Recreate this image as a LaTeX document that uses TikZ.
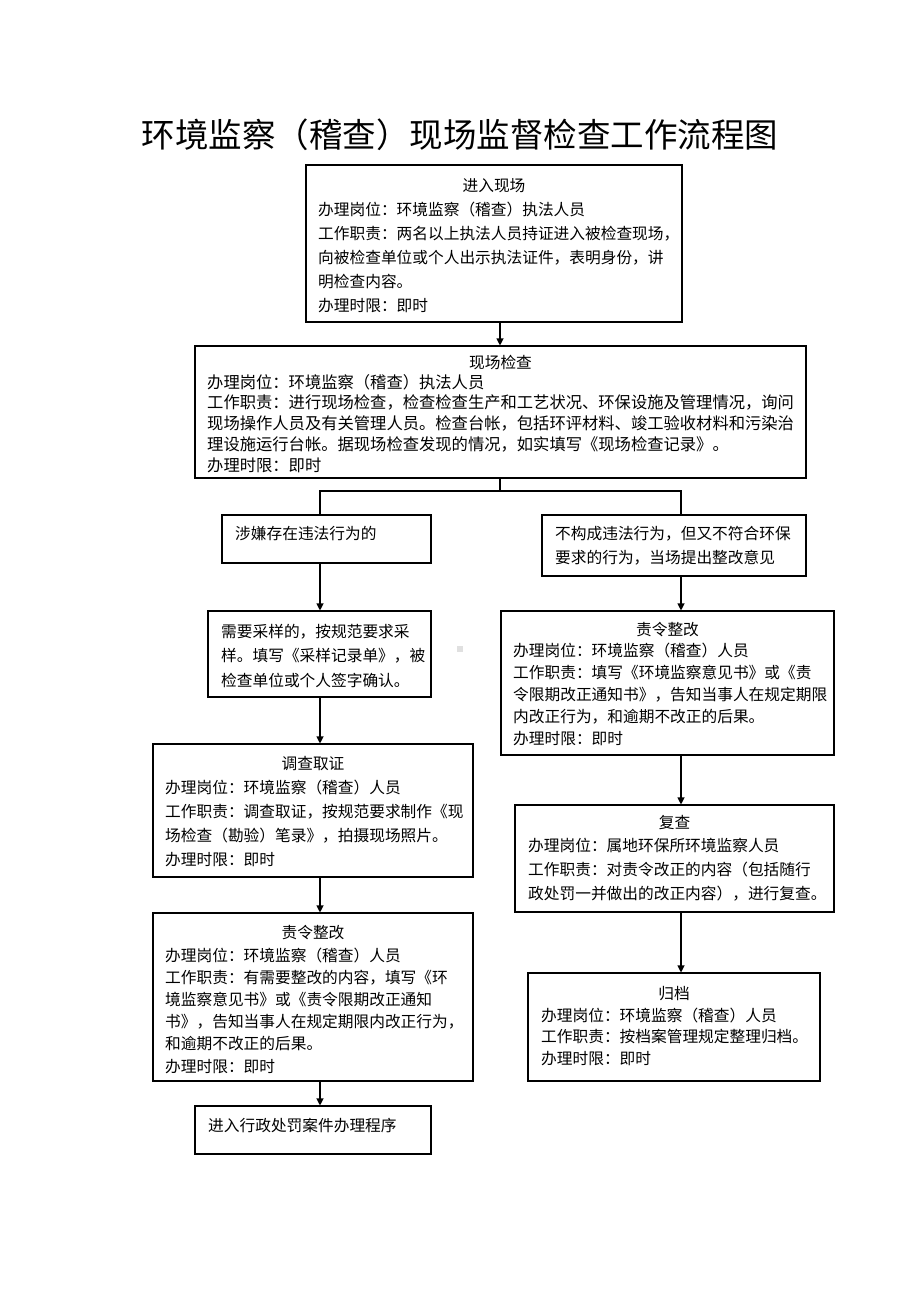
\documentclass[tikz,border=0pt]{standalone}
\usepackage{fontspec}
\newfontfamily\cjk{Noto Sans CJK SC}
\usetikzlibrary{arrows.meta}
\tikzset{
  box/.style={draw, line width=1.1pt, inner sep=0pt},
  ln/.style={inner sep=0pt, font=\cjk\fontsize{15.7}{18}\selectfont},
  lnw/.style={inner sep=0pt, font=\cjk\fontsize{16.3}{18}\selectfont},
  conn/.style={line width=1.1pt},
  arr/.style={line width=1.1pt, -{Triangle[length=7pt,width=7pt]}},
}
\newcommand\txtlines[6][ln]{\foreach \t [count=\i] in {#6}{\node[#1, anchor=base west] (#2\i) at (#3,{#4+(\i-1)*#5}) {\t};}}
\begin{document}
\begin{tikzpicture}[x=1pt,y=-1pt]
\fill[white] (0,0) rectangle (920,1302);
\useasboundingbox (0,0) rectangle (920,1302);

\node[inner sep=0pt, anchor=base, font=\cjk\fontsize{33.5}{40}\selectfont] (title) at (460,147) {环境监察（稽查）现场监督检查工作流程图};

% boxes
\node[box, minimum width=376pt, minimum height=157pt] (b1) at (494,243.5) {};
\node[box, minimum width=611pt, minimum height=132pt] (b2) at (500.5,412) {};
\node[box, minimum width=209pt, minimum height=48pt] (b3l) at (326.5,539) {};
\node[box, minimum width=264pt, minimum height=61pt] (b3r) at (674,545.5) {};
\node[box, minimum width=223pt, minimum height=86pt] (b4l) at (319.5,654) {};
\node[box, minimum width=333pt, minimum height=144pt] (b4r) at (667.5,683) {};
\node[box, minimum width=320pt, minimum height=133pt] (b5l) at (313,810.5) {};
\node[box, minimum width=319pt, minimum height=107pt] (b5r) at (674.5,858.5) {};
\node[box, minimum width=320pt, minimum height=168pt] (b6l) at (313,997) {};
\node[box, minimum width=292pt, minimum height=108pt] (b6r) at (674,1027) {};
\node[box, minimum width=236pt, minimum height=48pt] (b7l) at (313,1130) {};

\node[fill=black!12, minimum size=6pt, inner sep=0pt] (dot) at (460,649) {};

% box 1
\node[ln, anchor=base] (t1) at (494,191) {进入现场};
\txtlines{l1-}{318}{215}{24}{办理岗位：环境监察（稽查）执法人员,工作职责：两名以上执法人员持证进入被检查现场，,向被检查单位或个人出示执法证件，表明身份，讲,明检查内容。,办理时限：即时}
% box 2
\node[ln, anchor=base] (t2) at (500.5,368) {现场检查};
\txtlines[lnw]{l2-}{207}{388}{20.8}{办理岗位：环境监察（稽查）执法人员,工作职责：进行现场检查，检查检查生产和工艺状况、环保设施及管理情况，询问,现场操作人员及有关管理人员。检查台帐，包括环评材料、竣工验收材料和污染治,理设施运行台帐。据现场检查发现的情况，如实填写《现场检查记录》。,办理时限：即时}
% box 3
\txtlines{l3l-}{235}{539}{24}{涉嫌存在违法行为的}
\txtlines{l3r-}{555}{539}{24}{不构成违法行为，但又不符合环保,要求的行为，当场提出整改意见}
% box 4
\txtlines{l4l-}{221}{637}{24.5}{需要采样的，按规范要求采,样。填写《采样记录单》，被,检查单位或个人签字确认。}
\node[ln, anchor=base] (t4r) at (667.5,635) {责令整改};
\txtlines{l4r-}{513}{656}{22}{办理岗位：环境监察（稽查）人员,工作职责：填写《环境监察意见书》或《责,令限期改正通知书》，告知当事人在规定期限,内改正行为，和逾期不改正的后果。,办理时限：即时}
% box 5
\node[ln, anchor=base] (t5l) at (313,769) {调查取证};
\txtlines{l5l-}{165}{793}{24}{办理岗位：环境监察（稽查）人员,工作职责：调查取证，按规范要求制作《现,场检查（勘验）笔录》，拍摄现场照片。,办理时限：即时}
\node[ln, anchor=base] (t5r) at (674.5,828) {复查};
\txtlines{l5r-}{528}{851}{24}{办理岗位：属地环保所环境监察人员,工作职责：对责令改正的内容（包括随行,政处罚一并做出的改正内容），进行复查。}
% box 6
\node[ln, anchor=base] (t6l) at (313,938) {责令整改};
\txtlines{l6l-}{165}{961}{22.2}{办理岗位：环境监察（稽查）人员,工作职责：有需要整改的内容，填写《环,境监察意见书》或《责令限期改正通知,书》，告知当事人在规定期限内改正行为，,和逾期不改正的后果。,办理时限：即时}
\node[ln, anchor=base] (t6r) at (674,999) {归档};
\txtlines{l6r-}{541}{1021}{21.5}{办理岗位：环境监察（稽查）人员,工作职责：按档案管理规定整理归档。,办理时限：即时}
% box 7
\txtlines{l7l-}{208}{1131}{24}{进入行政处罚案件办理程序}

% connectors
\coordinate (cm) at (500,0);
\coordinate (cl) at (320,0);
\coordinate (cr) at (681,0);
\coordinate (sp) at (500,491);
\draw[arr] (b1.south -| cm) -- (b2.north -| cm);
\draw[conn] (b2.south -| cm) -- (sp);
\draw[conn] (sp) -| (b3l.north -| cl);
\draw[conn] (sp) -| (b3r.north -| cr);
\draw[arr] (b3l.south -| cl) -- (b4l.north -| cl);
\draw[arr] (b4l.south -| cl) -- (b5l.north -| cl);
\draw[arr] (b5l.south -| cl) -- (b6l.north -| cl);
\draw[arr] (b6l.south -| cl) -- (b7l.north -| cl);
\draw[arr] (b3r.south -| cr) -- (b4r.north -| cr);
\draw[arr] (b4r.south -| cr) -- (b5r.north -| cr);
\draw[arr] (b5r.south -| cr) -- (b6r.north -| cr);
\end{tikzpicture}
\end{document}
